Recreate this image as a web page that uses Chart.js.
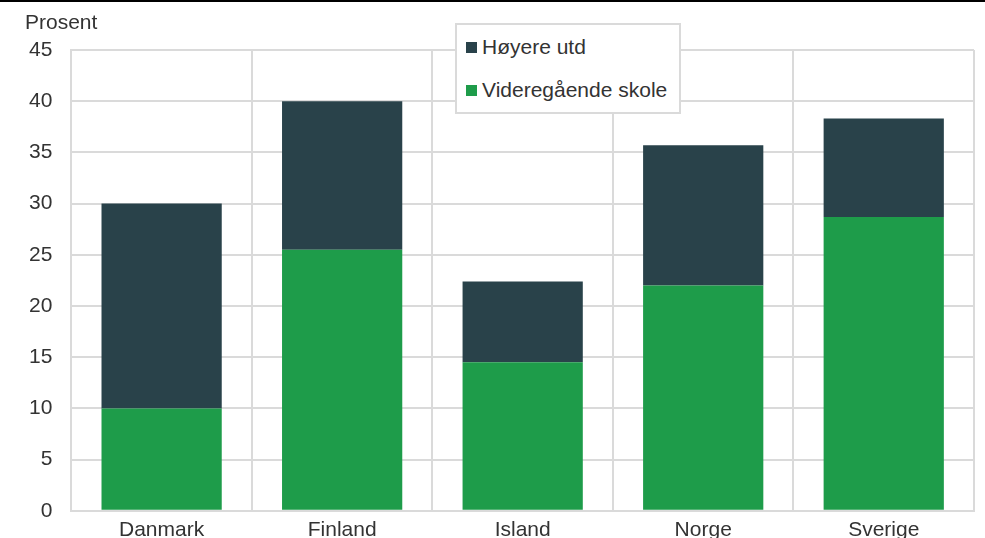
<!DOCTYPE html>
<html lang="no">
<head>
<meta charset="UTF-8">
<title>Prosent</title>
<style>
  html, body { margin: 0; padding: 0; background: #fff; overflow: hidden; }
  .wrap { position: relative; width: 985px; height: 538px; overflow: hidden; border-top: 2px solid #000; box-sizing: border-box; }
  canvas { display: block; }
  /* legenden ligger oppå plottet, med ramme */
  #legend { position: absolute; left: 455px; top: 21px; width: 222px; height: 87px;
    border: 2px solid #dadada; background: #fff; font: 21px "Liberation Sans", Arial, sans-serif; color: #333; }
  #legend div { position: absolute; left: 9px; height: 24px; display: flex; align-items: center; white-space: nowrap; }
  #legend span { display: inline-block; width: 11px; height: 11px; margin-right: 5px; }
</style>
</head>
<body>
<div class="wrap">
  <canvas id="chart" width="985" height="548"></canvas>
  <div id="legend"></div>
</div>
<script src="https://cdn.jsdelivr.net/npm/chart.js"></script>
<script>
const land = ['Danmark', 'Finland', 'Island', 'Norge', 'Sverige'];
const videregaende = [10.0, 25.5, 14.5, 22.0, 28.7];
const hoyereTotal = [30.0, 40.0, 22.4, 35.7, 38.3];
const hoyere = hoyereTotal.map((t, i) => +(t - videregaende[i]).toFixed(1));

const gronn = '#1e9c4a';
const mork = '#29424a';
const grid = '#dadada';
const font = { family: '"Liberation Sans", Arial, sans-serif', size: 21 };

// skriver "Prosent" over y-aksen
const aksetittel = {
  id: 'aksetittel',
  afterDraw(chart) {
    const ctx = chart.ctx;
    ctx.save();
    ctx.font = '21px "Liberation Sans", Arial, sans-serif';
    ctx.fillStyle = '#333';
    ctx.textBaseline = 'middle';
    ctx.fillText('Prosent', 25, 21);
    ctx.restore();
  }
};

const chart = new Chart(document.getElementById('chart'), {
  type: 'bar',
  data: {
    labels: land,
    datasets: [
      { label: 'Videregående skole', data: videregaende, backgroundColor: gronn },
      { label: 'Høyere utd', data: hoyere, backgroundColor: mork }
    ]
  },
  options: {
    responsive: false,
    animation: false,
    layout: { padding: { top: 48, right: 11, left: 10, bottom: 0 } },
    datasets: { bar: { categoryPercentage: 1, barPercentage: 0.666 } },
    plugins: { legend: { display: false }, tooltip: { enabled: false } },
    scales: {
      x: {
        stacked: true,
        grid: { color: grid, lineWidth: 2, drawTicks: false },
        border: { color: grid, width: 2 },
        ticks: { color: '#333', font: font, padding: 7 }
      },
      y: {
        stacked: true,
        min: 0, max: 45,
        grid: { color: grid, lineWidth: 2, drawTicks: false },
        border: { color: grid, width: 2 },
        ticks: { stepSize: 5, color: '#333', font: font, padding: 19 }
      }
    }
  },
  plugins: [aksetittel]
});

// legende i html, høyere utd øverst
const legend = document.getElementById('legend');
[...chart.data.datasets].reverse().forEach((ds, i) => {
  const row = document.createElement('div');
  row.style.top = (i === 0 ? 10 : 53) + 'px';
  row.innerHTML = '<span style="background:' + ds.backgroundColor + '"></span>' + ds.label;
  legend.appendChild(row);
});
</script>
</body>
</html>
